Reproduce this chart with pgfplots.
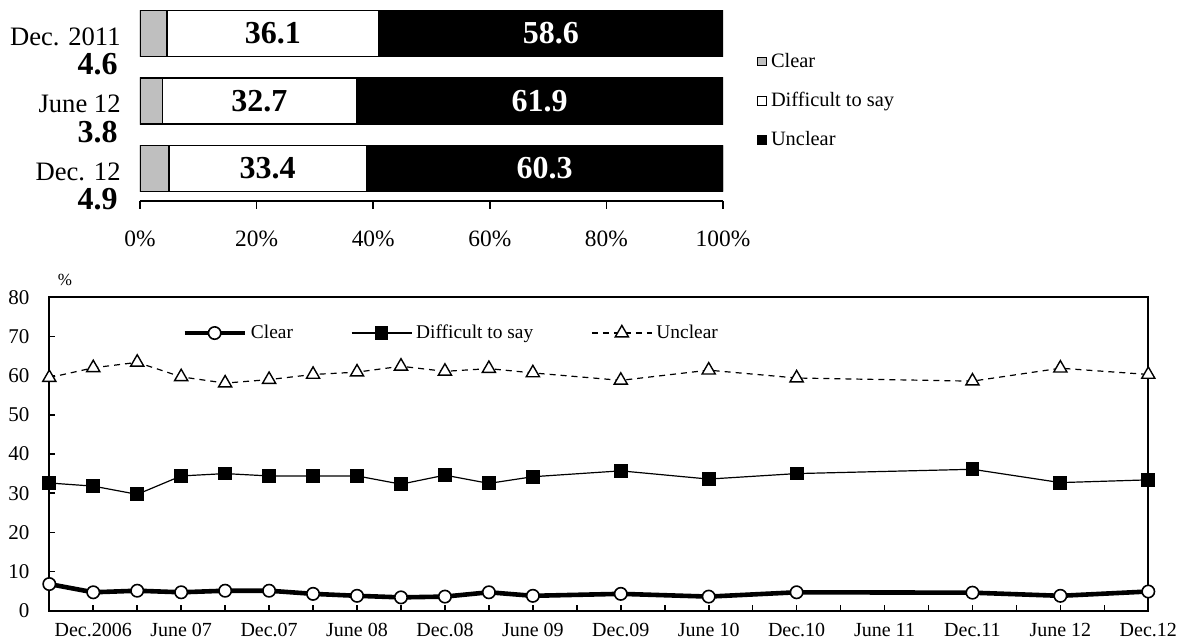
\documentclass[border=0pt]{standalone}
\usepackage{fontspec}
\setmainfont{Liberation Serif}
\usepackage{pgfplots}
\usepackage{pgfplotstable}
\pgfplotsset{compat=1.18}

\pgfplotstableread{
pos clear diff unclear
2 4.6 36.1 58.6
1 3.8 32.7 61.9
0 4.9 33.4 60.3
}\topdata

\pgfplotstableread{
q clear diff unclear
0 6.8 32.6 59.5
1 4.7 31.8 62.0
2 5.1 29.7 63.4
3 4.7 34.4 59.7
4 5.1 35.0 58.1
5 5.1 34.4 59.0
6 4.3 34.4 60.3
7 3.8 34.4 60.9
8 3.4 32.3 62.4
9 3.6 34.6 61.1
10 4.7 32.5 61.8
11 3.8 34.2 60.7
13 4.3 35.7 58.8
15 3.6 33.6 61.4
17 4.7 35.0 59.4
21 4.6 36.1 58.6
23 3.8 32.7 61.9
25 4.9 33.4 60.3
}\trenddata

\newcommand{\tot}{(\thisrow{clear}+\thisrow{diff}+\thisrow{unclear})}

\begin{document}
\begin{tikzpicture}
\path[use as bounding box] (0,0) rectangle (592.5pt,-320.5pt);

% ---------- top stacked bar chart ----------
\begin{axis}[
  at={(70pt,-100.35pt)}, anchor=south west, scale only axis,
  width=291.5pt, height=100pt,
  xbar stacked, bar width=23pt,
  xmin=0, xmax=100, ymin=-0.477, ymax=2.486,
  axis x line*=bottom, axis y line*=left,
  y axis line style={draw=none},
  x axis line style={line width=1pt},
  xtick={0,20,40,60,80,100},
  xticklabels={0\%,20\%,40\%,60\%,80\%,100\%},
  tick align=outside, major tick length=4pt,
  xtick style={line width=0.8pt, black},
  ytick={0,1,2}, yticklabels={Dec. 12,June 12,Dec. 2011},
  ytick style={draw=none},
  yticklabel style={anchor=east, font=\fontsize{13.3}{16}\selectfont, inner sep=0pt, xshift=-5.5pt, yshift=-1.5pt},
  xticklabel style={font=\fontsize{11.7}{14}\selectfont, inner sep=0pt, yshift=-11pt},
  legend style={at={(1.058,0.5)}, anchor=west, draw=none, fill=none, inner sep=0pt,
    font=\fontsize{10.2}{12}\selectfont, row sep=7pt},
  legend cell align=left,
  legend image code/.code={\draw[#1,line width=0.5pt] (0pt,-2.2pt) rectangle (4.4pt,2.2pt);},
]
\addplot[fill=black!25, draw=black, line width=0.6pt] table[x expr=\thisrow{clear}*100/\tot, y=pos]{\topdata};
\addplot[fill=white, draw=black, line width=0.6pt] table[x expr=\thisrow{diff}*100/\tot, y=pos]{\topdata};
\addplot[fill=black, draw=black, line width=0.6pt] table[x expr=\thisrow{unclear}*100/\tot, y=pos]{\topdata};
\legend{Clear, Difficult to say, Unclear}
\end{axis}

% ---------- labels for the bars ----------
\begin{axis}[
  at={(70pt,-100.35pt)}, anchor=south west, scale only axis,
  width=291.5pt, height=100pt,
  xmin=0, xmax=100, ymin=-0.477, ymax=2.486,
  hide axis, clip=false,
]
\addplot[draw=none, mark=none, nodes near coords, point meta=explicit symbolic,
  every node near coord/.append style={anchor=center, font=\bfseries\fontsize{16}{18}\selectfont, text=black}]
  table[x expr=(\thisrow{clear}+0.5*\thisrow{diff})*100/\tot, y=pos, meta=diff]{\topdata};
\addplot[draw=none, mark=none, nodes near coords, point meta=explicit symbolic,
  every node near coord/.append style={anchor=center, font=\bfseries\fontsize{16}{18}\selectfont, text=white}]
  table[x expr=(\thisrow{clear}+\thisrow{diff}+0.5*\thisrow{unclear})*100/\tot, y=pos, meta=unclear]{\topdata};
\addplot[draw=none, mark=none, nodes near coords, point meta=explicit symbolic,
  every node near coord/.append style={anchor=east, inner sep=0pt, xshift=-11pt, yshift=-15.5pt, font=\bfseries\fontsize{16}{18}\selectfont, text=black}]
  table[x expr=0, y=pos, meta=clear]{\topdata};
\end{axis}

% ---------- bottom line chart ----------
\begin{axis}[
  at={(24.65pt,-305.35pt)}, anchor=south west, scale only axis,
  width=549.5pt, height=156.7pt,
  xmin=0, xmax=25, ymin=0, ymax=80,
  clip=false,
  xtick={0,...,25},
  xticklabels={,Dec.2006,,June 07,,Dec.07,,June 08,,Dec.08,,June 09,,Dec.09,,June 10,,Dec.10,,June 11,,Dec.11,,June 12,,Dec.12},
  ytick={0,10,...,80},
  tick align=inside, major tick length=3pt, tick pos=left,
  axis line style={line width=0.9pt},
  tick style={line width=0.8pt, black},
  /pgf/number format/assume math mode=true,
  yticklabel style={font=\fontsize{10.5}{12}\selectfont, inner sep=0pt, xshift=-9.7pt},
  xticklabel style={font=\fontsize{10}{12}\selectfont, inner sep=0pt, yshift=-5.9pt},
  legend columns=3,
  legend style={at={(0.1207,0.886)}, anchor=west, draw=none, fill=none, inner sep=0pt,
    font=\fontsize{9.7}{12}\selectfont,
    /tikz/every even column/.append style={column sep=27pt}},
  legend image code/.code={\draw[mark repeat=2,mark phase=2,#1] plot coordinates {(0pt,0pt) (15pt,0pt) (30pt,0pt)};},
]
\addplot[black, line width=2.3pt, mark=*, mark size=3.1pt, mark options={fill=white, line width=0.8pt}]
  table[x=q, y=clear]{\trenddata};
\addplot[black, line width=0.6pt, mark=square*, mark size=3.15pt, mark options={solid, fill=black}]
  table[x=q, y=diff]{\trenddata};
\addplot[black, line width=0.6pt, dash pattern=on 3pt off 2.5pt, mark=triangle*, mark size=3.8pt, mark options={solid, fill=white, line width=0.7pt}]
  table[x=q, y=unclear]{\trenddata};
\legend{Clear, Difficult to say, Unclear}
\node[font=\fontsize{8.5}{10}\selectfont] at (rel axis cs:0,1) [xshift=7.8pt, yshift=8.6pt] {\%};
\end{axis}
\end{tikzpicture}
\end{document}
